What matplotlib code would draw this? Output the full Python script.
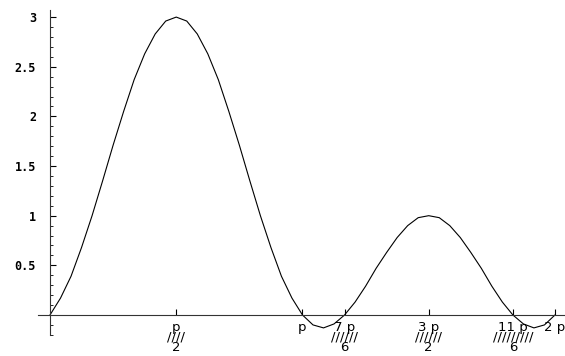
import numpy as np
import matplotlib
matplotlib.use("Agg")
import matplotlib.pyplot as plt
from matplotlib.ticker import FixedLocator

# samples every pi/24 over [0, 2pi]
k = list(range(49))
y = [0.00, 0.17, 0.39, 0.68, 1.00, 1.35, 1.71, 2.05, 2.37, 2.63, 2.83, 2.96,
     3.00, 2.96, 2.83, 2.63, 2.37, 2.05, 1.71, 1.35, 1.00, 0.68, 0.39, 0.17,
     0.00, -0.10, -0.13, -0.09, 0.00, 0.13, 0.29, 0.47, 0.63, 0.78, 0.90, 0.98,
     1.00, 0.98, 0.90, 0.78, 0.63, 0.47, 0.29, 0.13, 0.00, -0.09, -0.13, -0.10,
     0.00]
x = [i * np.pi / 24 for i in k]

xticks = [np.pi / 2, np.pi, 7 * np.pi / 6, 3 * np.pi / 2, 11 * np.pi / 6, 2 * np.pi]
xticklabels = ["p\n////\n2", "p", "7 p\n//////\n6", "3 p\n//////\n2", "11 p\n/////////\n6", "2 p"]
yticks = [0.5, 1, 1.5, 2, 2.5, 3]
yticklabels = ["0.5", "1", "1.5", "2", "2.5", "3"]
yminor = [i / 10 for i in range(-2, 31)]

fig = plt.figure(figsize=(5.65, 3.56), dpi=100)
ax = fig.add_axes([0, 0, 1, 1])
ax.plot(x, y, color="black", lw=0.8)

ax.set_xlim(-0.622, 6.408)
ax.set_ylim(-0.413, 3.172)

for s in ["top", "right"]:
    ax.spines[s].set_visible(False)
ax.spines["left"].set_position(("data", 0))
ax.spines["bottom"].set_position(("data", 0))
ax.spines["left"].set_bounds(-0.2, 3.07)
ax.spines["bottom"].set_bounds(-0.15, 6.408)
for s in ["left", "bottom"]:
    ax.spines[s].set_linewidth(0.8)
    ax.spines[s].set_color("#333333")

ax.set_yticks(yticks)
ax.set_yticklabels(yticklabels, family="DejaVu Sans Mono", fontweight="bold", fontsize=8.5)
ax.yaxis.set_minor_locator(FixedLocator(yminor))
ax.tick_params(axis="y", which="major", direction="in", length=4, width=0.8, pad=10)
ax.tick_params(axis="y", which="minor", direction="in", length=2.5, width=0.6)

ax.set_xticks(xticks)
ax.set_xticklabels(xticklabels, fontsize=9.5, linespacing=0.7)
ax.tick_params(axis="x", which="major", direction="in", length=4, width=0.8, pad=4)

fig.savefig("out.png", dpi=100)
